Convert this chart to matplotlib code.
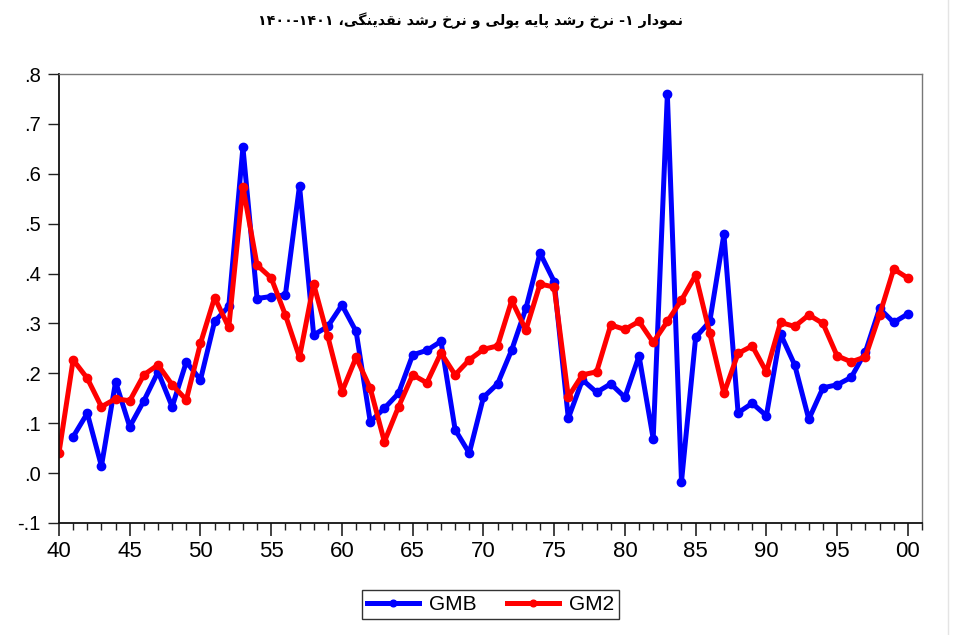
import re
import numpy as np
import matplotlib
matplotlib.use("Agg")
import matplotlib.pyplot as plt
from matplotlib.lines import Line2D

# ---------------- data ----------------
years = list(range(40, 101))  # 1340 .. 1400
x_tick_pos = [40, 45, 50, 55, 60, 65, 70, 75, 80, 85, 90, 95, 100]
x_tick_labels = ["40", "45", "50", "55", "60", "65", "70", "75", "80", "85", "90", "95", "00"]
y_tick_pos = [-0.1, 0.0, 0.1, 0.2, 0.3, 0.4, 0.5, 0.6, 0.7, 0.8]
y_tick_labels = ["-.1", ".0", ".1", ".2", ".3", ".4", ".5", ".6", ".7", ".8"]

gmb = [np.nan,
       0.073, 0.120, 0.014, 0.183, 0.093, 0.145, 0.203, 0.133, 0.223, 0.187,
       0.304, 0.334, 0.653, 0.350, 0.354, 0.357, 0.576, 0.277, 0.294, 0.337,
       0.284, 0.103, 0.130, 0.160, 0.237, 0.246, 0.264, 0.087, 0.040, 0.152,
       0.179, 0.247, 0.330, 0.441, 0.384, 0.110, 0.187, 0.162, 0.179, 0.152,
       0.235, 0.069, 0.759, -0.017, 0.272, 0.304, 0.479, 0.121, 0.140, 0.115,
       0.279, 0.217, 0.108, 0.171, 0.177, 0.192, 0.243, 0.330, 0.302, 0.319]

gm2 = [0.041,
       0.227, 0.190, 0.133, 0.149, 0.145, 0.197, 0.217, 0.177, 0.147, 0.260,
       0.352, 0.292, 0.574, 0.417, 0.391, 0.317, 0.232, 0.379, 0.274, 0.163,
       0.232, 0.170, 0.063, 0.133, 0.197, 0.181, 0.241, 0.197, 0.227, 0.248,
       0.255, 0.346, 0.287, 0.379, 0.373, 0.153, 0.197, 0.203, 0.297, 0.288,
       0.304, 0.262, 0.304, 0.347, 0.397, 0.280, 0.160, 0.240, 0.255, 0.203,
       0.302, 0.294, 0.317, 0.300, 0.235, 0.223, 0.233, 0.317, 0.409, 0.391]

series_names = ["GMB", "GM2"]
title_text = "نمودار ۱- نرخ رشد پایه پولی و نرخ رشد نقدینگی، ۱۴۰۰-۱۴۰۱"

# ------------- minimal Arabic/Persian shaping (no bidi lib available) -------------
FORMS = {
    'ا': ('\uFE8D', '\uFE8E', None, None),
    'ب': ('\uFE8F', '\uFE90', '\uFE91', '\uFE92'),
    'ت': ('\uFE95', '\uFE96', '\uFE97', '\uFE98'),
    'خ': ('\uFEA5', '\uFEA6', '\uFEA7', '\uFEA8'),
    'د': ('\uFEA9', '\uFEAA', None, None),
    'ر': ('\uFEAD', '\uFEAE', None, None),
    'ز': ('\uFEAF', '\uFEB0', None, None),
    'ش': ('\uFEB5', '\uFEB6', '\uFEB7', '\uFEB8'),
    'ق': ('\uFED5', '\uFED6', '\uFED7', '\uFED8'),
    'ل': ('\uFEDD', '\uFEDE', '\uFEDF', '\uFEE0'),
    'م': ('\uFEE1', '\uFEE2', '\uFEE3', '\uFEE4'),
    'ن': ('\uFEE5', '\uFEE6', '\uFEE7', '\uFEE8'),
    'ه': ('\uFEE9', '\uFEEA', '\uFEEB', '\uFEEC'),
    'و': ('\uFEED', '\uFEEE', None, None),
    'ی': ('\uFBFC', '\uFBFD', '\uFBFE', '\uFBFF'),
    'پ': ('\uFB56', '\uFB57', '\uFB58', '\uFB59'),
    'گ': ('\uFB92', '\uFB93', '\uFB94', '\uFB95'),
}


def shape(s):
    out = []
    for i, c in enumerate(s):
        if c not in FORMS:
            out.append(c)
            continue
        prev = s[i - 1] if i > 0 else None
        nxt = s[i + 1] if i + 1 < len(s) else None
        jp = prev in FORMS and FORMS[prev][2] is not None
        jn = nxt in FORMS and FORMS[c][2] is not None
        iso, fin, ini, med = FORMS[c]
        if jp and jn:
            out.append(med)
        elif jp:
            out.append(fin)
        elif jn:
            out.append(ini)
        else:
            out.append(iso)
    return ''.join(out)


def visual(s):
    r = shape(s)[::-1]
    return re.sub(r'[0-9\u06F0-\u06F9]+(?:[-.][0-9\u06F0-\u06F9]+)*',
                  lambda m: m.group(0)[::-1], r)


# ---------------- figure ----------------
plt.rcParams['font.family'] = ['Liberation Sans', 'DejaVu Sans']

fig = plt.figure(figsize=(9.61, 6.35), dpi=100)
ax = fig.add_axes([59 / 961, 1 - 523 / 635, (922 - 59) / 961, (523 - 74) / 635])

ax.plot(years, gmb, color='#0000ff', lw=3.6, marker='o', ms=6, label=series_names[0],
        solid_joinstyle='round')
ax.plot(years, gm2, color='#ff0000', lw=3.6, marker='o', ms=6, label=series_names[1],
        solid_joinstyle='round')

ax.set_xlim(40, 101)
ax.set_ylim(-0.1, 0.8)
ax.set_xticks(x_tick_pos, x_tick_labels)
ax.set_xticks(years + [101], minor=True)
ax.set_yticks(y_tick_pos, y_tick_labels)

ax.tick_params(axis='x', which='major', direction='out', length=9, width=1.2,
               labelsize=16, pad=4, color='#222222')
ax.tick_params(axis='x', which='minor', direction='out', length=5, width=1.0, color='#222222')
ax.tick_params(axis='y', which='major', direction='out', length=8, width=1.0,
               labelsize=14.5, pad=5, color='#222222')

for side in ['left', 'bottom']:
    ax.spines[side].set_color('#111111')
    ax.spines[side].set_linewidth(1.3)
for side in ['top', 'right']:
    ax.spines[side].set_color('#777777')
    ax.spines[side].set_linewidth(1.0)

fig.text(471 / 961, 1 - 21 / 635, visual(title_text), ha='center', va='center',
         fontsize=10.3, fontweight='bold', family=['DejaVu Sans'])

leg = fig.legend(loc='center', bbox_to_anchor=(490.5 / 961, 1 - 604.5 / 635), ncol=2,
                 fontsize=15, frameon=True, fancybox=False, edgecolor='black',
                 handlelength=2.5, columnspacing=1.5, handletextpad=0.45,
                 borderpad=0.25, markerscale=0.8)
leg.get_frame().set_linewidth(1.0)

# page border line at right edge of the reference image
fig.add_artist(Line2D([947.5 / 961, 947.5 / 961], [0, 1], color='#e4e4e4', lw=1.0))

fig.savefig('out.png', dpi=100)
